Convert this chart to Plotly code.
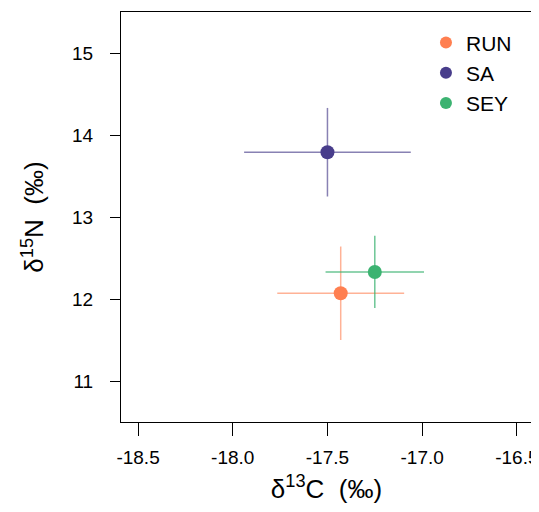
import plotly.graph_objects as go

groups = ["RUN", "SA", "SEY"]
d13c_mean = [-17.43, -17.50, -17.25]
d13c_sd = [0.335, 0.44, 0.26]
d15n_mean = [12.07, 13.79, 12.33]
d15n_sd = [0.57, 0.54, 0.44]
colors = ["#FF7F50", "#483D8B", "#3CB371"]
err_colors = ["rgba(255,127,80,0.6)", "rgba(72,61,139,0.65)", "rgba(60,179,113,0.75)"]

x_ticks = [-18.5, -18.0, -17.5, -17.0, -16.5]
x_ticklabels = ["-18.5", "-18.0", "-17.5", "-17.0", "-16.5"]
y_ticks = [11, 12, 13, 14, 15]

fig = go.Figure()
for g, x, xs, y, ys, c, ec in zip(groups, d13c_mean, d13c_sd, d15n_mean, d15n_sd, colors, err_colors):
    fig.add_trace(go.Scatter(
        x=[x], y=[y], mode="markers", name=g,
        marker=dict(color=c, size=14),
        error_x=dict(type="data", array=[xs], color=ec, thickness=1.5, width=0),
        error_y=dict(type="data", array=[ys], color=ec, thickness=1.5, width=0),
    ))

# page body has an 8px default margin, so the figure is sized to fit the window
fig.update_layout(
    width=531, height=496,
    margin=dict(l=113, r=7, t=4, b=82),
    plot_bgcolor="white", paper_bgcolor="white",
    font=dict(family="Liberation Sans, Arial, sans-serif", color="black"),
    showlegend=True,
    legend=dict(x=0.742, y=0.975, xanchor="left", yanchor="top",
                font=dict(size=21), bgcolor="rgba(0,0,0,0)", itemsizing="constant"),
    xaxis=dict(range=[-18.59, -16.42], tickvals=x_ticks, ticktext=x_ticklabels,
               showgrid=False, zeroline=False, showline=True, mirror=True,
               linecolor="black", linewidth=1, ticks="outside", ticklen=13,
               tickcolor="black", tickfont=dict(size=19), ticklabelstandoff=5,
               ticklabeloverflow="allow", automargin=False,
               title=dict(text="δ<sup>13</sup>C  (‰)", font=dict(size=26), standoff=18)),
    yaxis=dict(range=[10.5, 15.5], tickvals=y_ticks,
               showgrid=False, zeroline=False, showline=True, mirror=True,
               linecolor="black", linewidth=1, ticks="outside", ticklen=10,
               tickcolor="black", tickfont=dict(size=19), ticklabelstandoff=13,
               ticklabeloverflow="allow", automargin=False,
               title=dict(text="δ<sup>15</sup>N  (‰)", font=dict(size=26), standoff=20)),
)

fig.write_html("out.html")
